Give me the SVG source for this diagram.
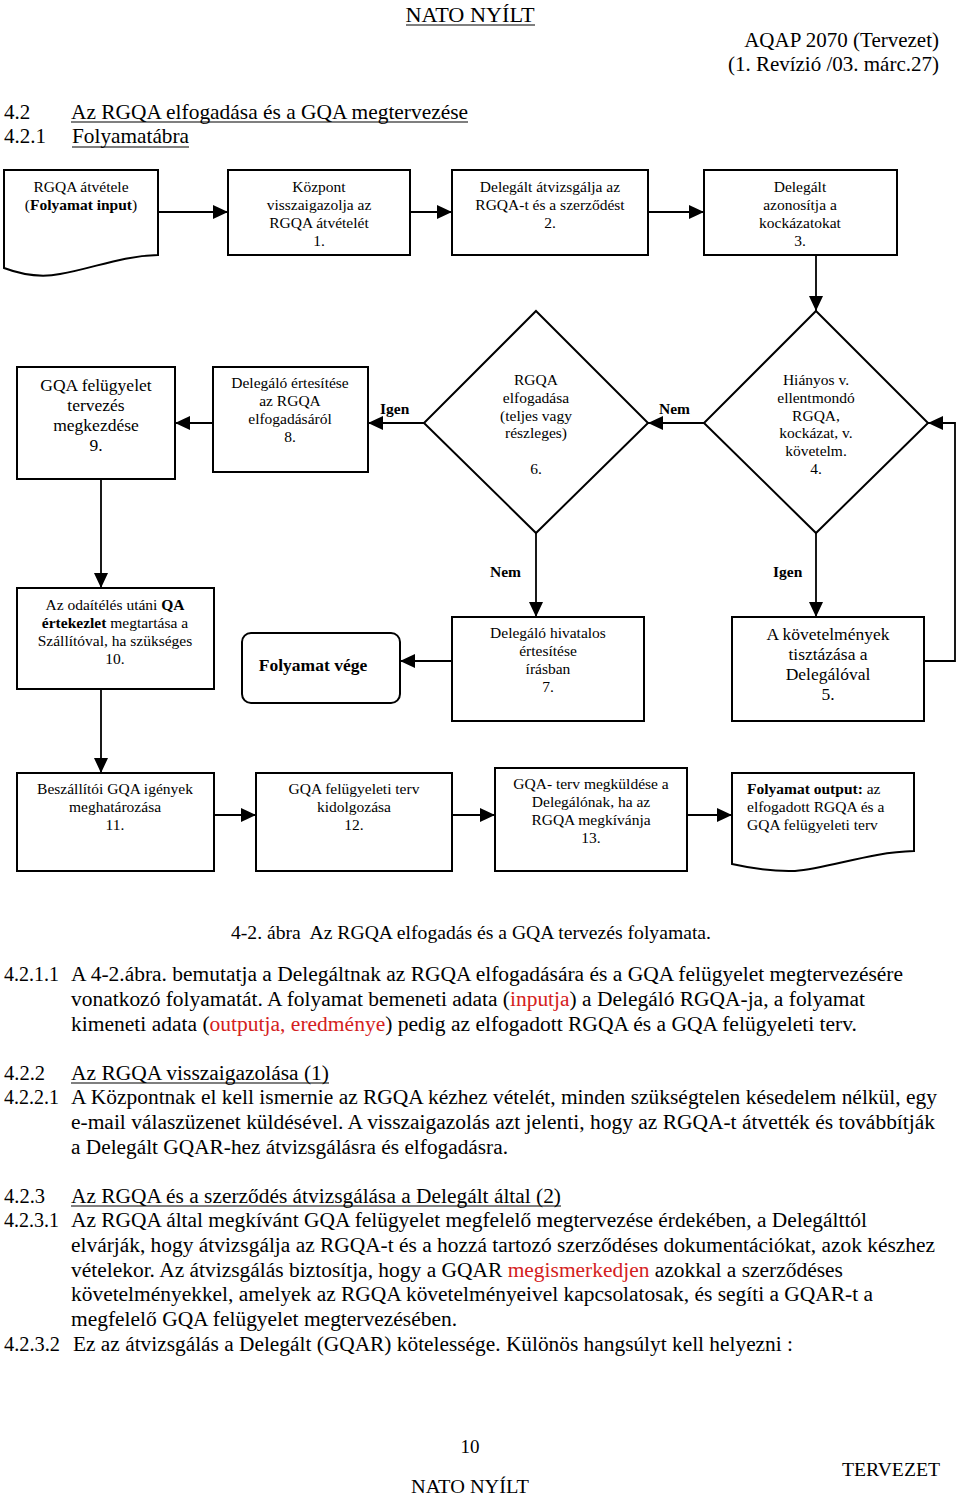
<svg xmlns="http://www.w3.org/2000/svg" width="960" height="1498" viewBox="0 0 960 1498">
<defs>
<style>
text{font-family:"Liberation Serif","Times New Roman",serif;fill:#000}
.n{font-size:15.5px;text-anchor:middle}
.nb{font-size:17.5px;text-anchor:middle}
.lbl{font-size:15.5px;font-weight:bold}
.b{font-weight:bold}
.body{font-size:20.5px}
.red{fill:#d42020}
.box{fill:#fff;stroke:#000;stroke-width:2}
.conn path{fill:none;stroke:#000;stroke-width:1.8}
.ul{stroke:#000;stroke-width:1.2}
</style>
<marker id="ah" markerUnits="userSpaceOnUse" markerWidth="16" markerHeight="14" refX="15" refY="7" orient="auto">
<path d="M0,0 L15,7 L0,14 Z" fill="#000"/>
</marker>
</defs>
<rect width="960" height="1498" fill="#fff"/>

<!-- header -->
<text x="470" y="22" style="font-size:21px;text-anchor:middle" textLength="129" lengthAdjust="spacingAndGlyphs">NATO NYÍLT</text>
<line class="ul" x1="406" y1="25" x2="535" y2="25"/>
<text x="939" y="47" style="font-size:21px;text-anchor:end">AQAP 2070 (Tervezet)</text>
<text x="939" y="71" style="font-size:21px;text-anchor:end">(1. Revízió /03. márc.27)</text>
<text x="4" y="119" style="font-size:21px">4.2</text>
<text x="71" y="119" style="font-size:21px" textLength="397" lengthAdjust="spacingAndGlyphs">Az RGQA elfogadása és a GQA megtervezése</text>
<line class="ul" x1="71" y1="122" x2="468" y2="122"/>
<text x="4" y="143" style="font-size:21px">4.2.1</text>
<text x="72" y="143" style="font-size:21px" textLength="117" lengthAdjust="spacingAndGlyphs">Folyamatábra</text>
<line class="ul" x1="72" y1="147" x2="189" y2="147"/>

<!-- connectors -->
<g id="connectors" class="conn">
<path d="M158,212 H228" marker-end="url(#ah)"/>
<path d="M410,212 H452" marker-end="url(#ah)"/>
<path d="M648,212 H704" marker-end="url(#ah)"/>
<path d="M816,255 V311" marker-end="url(#ah)"/>
<path d="M704,423 H648" marker-end="url(#ah)"/>
<path d="M424,423 H368" marker-end="url(#ah)"/>
<path d="M213,423 H175" marker-end="url(#ah)"/>
<path d="M101,479 V588" marker-end="url(#ah)"/>
<path d="M101,689 V773" marker-end="url(#ah)"/>
<path d="M536,533 V617" marker-end="url(#ah)"/>
<path d="M816,533 V617" marker-end="url(#ah)"/>
<path d="M924,661 H955 V423 H928" marker-end="url(#ah)"/>
<path d="M452,661 H400" marker-end="url(#ah)"/>
<path d="M214,815 H256" marker-end="url(#ah)"/>
<path d="M452,815 H495" marker-end="url(#ah)"/>
<path d="M687,815 H732" marker-end="url(#ah)"/>
<text class="lbl" x="380" y="414">Igen</text>
<text class="lbl" x="659" y="414">Nem</text>
<text class="lbl" x="490" y="577">Nem</text>
<text class="lbl" x="773" y="577">Igen</text>
</g>

<!-- row 1 -->
<g id="input">
<path class="box" d="M4,170 H158 V255 C120,256 95,268 60,274 C40,278 20,274 4,268 Z"/>
<text class="n" x="81" y="192">RGQA átvétele</text>
<text class="n" x="81" y="210">(<tspan class="b">Folyamat input</tspan>)</text>
</g>
<g id="n1">
<rect class="box" x="228" y="170" width="182" height="85"/>
<text class="n" x="319" y="192">Központ</text>
<text class="n" x="319" y="210">visszaigazolja az</text>
<text class="n" x="319" y="228">RGQA átvételét</text>
<text class="n" x="319" y="246">1.</text>
</g>
<g id="n2">
<rect class="box" x="452" y="170" width="196" height="85"/>
<text class="n" x="550" y="192">Delegált átvizsgálja az</text>
<text class="n" x="550" y="210">RGQA-t és a szerződést</text>
<text class="n" x="550" y="228">2.</text>
</g>
<g id="n3">
<rect class="box" x="704" y="170" width="193" height="85"/>
<text class="n" x="800" y="192">Delegált</text>
<text class="n" x="800" y="210">azonosítja a</text>
<text class="n" x="800" y="228">kockázatokat</text>
<text class="n" x="800" y="246">3.</text>
</g>

<!-- row 2 -->
<g id="n4">
<path class="box" d="M816,311 L928,423 L816,533 L704,423 Z"/>
<text class="n" x="816" y="385">Hiányos v.</text>
<text class="n" x="816" y="403">ellentmondó</text>
<text class="n" x="816" y="421">RGQA,</text>
<text class="n" x="816" y="438">kockázat, v.</text>
<text class="n" x="816" y="456">követelm.</text>
<text class="n" x="816" y="474">4.</text>
</g>
<g id="n6">
<path class="box" d="M536,311 L648,423 L536,533 L424,423 Z"/>
<text class="n" x="536" y="385">RGQA</text>
<text class="n" x="536" y="403">elfogadása</text>
<text class="n" x="536" y="421">(teljes vagy</text>
<text class="n" x="536" y="438">részleges)</text>
<text class="n" x="536" y="474">6.</text>
</g>
<g id="n8">
<rect class="box" x="213" y="367" width="155" height="105"/>
<text class="n" x="290" y="388">Delegáló értesítése</text>
<text class="n" x="290" y="406">az RGQA</text>
<text class="n" x="290" y="424">elfogadásáról</text>
<text class="n" x="290" y="442">8.</text>
</g>
<g id="n9">
<rect class="box" x="17" y="367" width="158" height="112"/>
<text class="nb" x="96" y="391">GQA felügyelet</text>
<text class="nb" x="96" y="411">tervezés</text>
<text class="nb" x="96" y="431">megkezdése</text>
<text class="nb" x="96" y="451">9.</text>
</g>

<!-- row 3 -->
<g id="n10">
<rect class="box" x="17" y="588" width="197" height="101"/>
<text class="n" x="115" y="610">Az odaítélés utáni <tspan class="b">QA</tspan></text>
<text class="n" x="115" y="628"><tspan class="b">értekezlet</tspan> megtartása a</text>
<text class="n" x="115" y="646">Szállítóval, ha szükséges</text>
<text class="n" x="115" y="664">10.</text>
</g>
<g id="end">
<rect class="box" x="242" y="633" width="158" height="70" rx="9" ry="9"/>
<text x="313" y="671" style="font-size:17.5px;font-weight:bold;text-anchor:middle">Folyamat vége</text>
</g>
<g id="n7">
<rect class="box" x="452" y="617" width="192" height="104"/>
<text class="n" x="548" y="638">Delegáló hivatalos</text>
<text class="n" x="548" y="656">értesítése</text>
<text class="n" x="548" y="674">írásban</text>
<text class="n" x="548" y="692">7.</text>
</g>
<g id="n5">
<rect class="box" x="732" y="617" width="192" height="104"/>
<text class="nb" x="828" y="640">A követelmények</text>
<text class="nb" x="828" y="660">tisztázása a</text>
<text class="nb" x="828" y="680">Delegálóval</text>
<text class="nb" x="828" y="700">5.</text>
</g>

<!-- row 4 -->
<g id="n11">
<rect class="box" x="17" y="773" width="197" height="98"/>
<text class="n" x="115" y="794">Beszállítói GQA igények</text>
<text class="n" x="115" y="812">meghatározása</text>
<text class="n" x="115" y="830">11.</text>
</g>
<g id="n12">
<rect class="box" x="256" y="773" width="196" height="98"/>
<text class="n" x="354" y="794">GQA felügyeleti terv</text>
<text class="n" x="354" y="812">kidolgozása</text>
<text class="n" x="354" y="830">12.</text>
</g>
<g id="n13">
<rect class="box" x="495" y="768" width="192" height="103"/>
<text class="n" x="591" y="789">GQA- terv megküldése a</text>
<text class="n" x="591" y="807">Delegálónak, ha az</text>
<text class="n" x="591" y="825">RGQA megkívánja</text>
<text class="n" x="591" y="843">13.</text>
</g>
<g id="output">
<path class="box" d="M732,773 H914 V851 C870,852 830,868 795,871 C770,872 750,868 732,864 Z"/>
<text x="747" y="794" style="font-size:15.5px"><tspan class="b">Folyamat output:</tspan> az</text>
<text x="747" y="812" style="font-size:15.5px">elfogadott RGQA és a</text>
<text x="747" y="830" style="font-size:15.5px">GQA felügyeleti terv</text>
</g>

<!-- caption and body -->
<text x="231" y="939" style="font-size:18.5px;white-space:pre" textLength="480" lengthAdjust="spacingAndGlyphs">4-2. ábra  Az RGQA elfogadás és a GQA tervezés folyamata.</text>

<text class="body" x="4" y="981" textLength="55" lengthAdjust="spacingAndGlyphs">4.2.1.1</text>
<text class="body" x="71" y="981" textLength="832" lengthAdjust="spacingAndGlyphs">A 4-2.ábra. bemutatja a Delegáltnak az RGQA elfogadására és a GQA felügyelet megtervezésére</text>
<text class="body" x="71" y="1006" textLength="794" lengthAdjust="spacingAndGlyphs">vonatkozó folyamatát. A folyamat bemeneti adata (<tspan class="red">inputja</tspan>) a Delegáló RGQA-ja, a folyamat</text>
<text class="body" x="71" y="1031" textLength="786" lengthAdjust="spacingAndGlyphs">kimeneti adata (<tspan class="red">outputja, eredménye</tspan>) pedig az elfogadott RGQA és a GQA felügyeleti terv.</text>

<text class="body" x="4" y="1080">4.2.2</text>
<text class="body" x="71" y="1080" textLength="258" lengthAdjust="spacingAndGlyphs">Az RGQA visszaigazolása (1)</text>
<line class="ul" x1="71" y1="1083" x2="329" y2="1083"/>
<text class="body" x="4" y="1104" textLength="55" lengthAdjust="spacingAndGlyphs">4.2.2.1</text>
<text class="body" x="71" y="1104" textLength="866" lengthAdjust="spacingAndGlyphs">A Központnak el kell ismernie az RGQA kézhez vételét, minden szükségtelen késedelem nélkül, egy</text>
<text class="body" x="71" y="1129" textLength="864" lengthAdjust="spacingAndGlyphs">e-mail válaszüzenet küldésével. A visszaigazolás azt jelenti, hogy az RGQA-t átvették és továbbítják</text>
<text class="body" x="71" y="1154" textLength="437" lengthAdjust="spacingAndGlyphs">a Delegált GQAR-hez átvizsgálásra és elfogadásra.</text>

<text class="body" x="4" y="1203">4.2.3</text>
<text class="body" x="71" y="1203" textLength="490" lengthAdjust="spacingAndGlyphs">Az RGQA és a szerződés átvizsgálása a Delegált által (2)</text>
<line class="ul" x1="71" y1="1206" x2="561" y2="1206"/>
<text class="body" x="4" y="1227" textLength="55" lengthAdjust="spacingAndGlyphs">4.2.3.1</text>
<text class="body" x="71" y="1227" textLength="796" lengthAdjust="spacingAndGlyphs">Az RGQA által megkívánt GQA felügyelet megfelelő megtervezése érdekében, a Delegálttól</text>
<text class="body" x="71" y="1252" textLength="864" lengthAdjust="spacingAndGlyphs">elvárják, hogy átvizsgálja az RGQA-t és a hozzá tartozó szerződéses dokumentációkat, azok készhez</text>
<text class="body" x="71" y="1277" textLength="772" lengthAdjust="spacingAndGlyphs">vételekor. Az átvizsgálás biztosítja, hogy a GQAR <tspan class="red">megismerkedjen</tspan> azokkal a szerződéses</text>
<text class="body" x="71" y="1301" textLength="802" lengthAdjust="spacingAndGlyphs">követelményekkel, amelyek az RGQA követelményeivel kapcsolatosak, és segíti a GQAR-t a</text>
<text class="body" x="71" y="1326" textLength="386" lengthAdjust="spacingAndGlyphs">megfelelő GQA felügyelet megtervezésében.</text>
<text class="body" x="4" y="1351" textLength="56" lengthAdjust="spacingAndGlyphs">4.2.3.2</text>
<text class="body" x="73" y="1351" textLength="720" lengthAdjust="spacingAndGlyphs">Ez az átvizsgálás a Delegált (GQAR) kötelessége. Különös hangsúlyt kell helyezni :</text>

<!-- footer -->
<text x="470" y="1453" style="font-size:19px;text-anchor:middle">10</text>
<text x="940" y="1476" style="font-size:19px;text-anchor:end" textLength="98" lengthAdjust="spacingAndGlyphs">TERVEZET</text>
<text x="470" y="1493" style="font-size:18px;text-anchor:middle" textLength="118" lengthAdjust="spacingAndGlyphs">NATO NYÍLT</text>
</svg>
